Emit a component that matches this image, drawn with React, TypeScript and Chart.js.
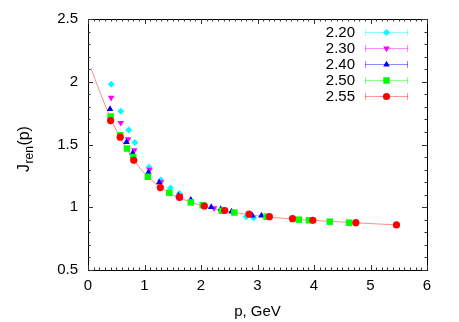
import React, { useEffect, useRef } from "react";
import { Chart, registerables } from "chart.js";

Chart.register(...registerables);

// beta = 2.20
const p220 = [0.41, 0.58, 0.72, 0.83, 1.08, 1.29, 1.46, 1.62, 2.8, 2.93];
const j220 = [1.98, 1.765, 1.616, 1.516, 1.318, 1.217, 1.153, 1.11, 0.925, 0.917];
// beta = 2.30
const p230 = [0.41, 0.58, 0.71, 0.82, 1.09, 1.29, 1.63, 2.23];
const j230 = [1.873, 1.673, 1.542, 1.455, 1.3, 1.2, 1.09, 0.992];
// beta = 2.40
const p240 = [0.39, 0.68, 0.79, 1.07, 1.26, 1.6, 1.82, 2.18, 2.35, 2.54, 2.91, 3.07];
const j240 = [1.783, 1.52, 1.432, 1.278, 1.199, 1.094, 1.06, 1.002, 0.986, 0.965, 0.934, 0.933];
// beta = 2.50
const p250 = [0.4, 0.57, 0.69, 0.8, 1.06, 1.44, 1.82, 2.03, 2.37, 2.59, 3.16, 3.73, 3.91, 4.28, 4.62];
const j250 = [1.723, 1.574, 1.468, 1.4, 1.243, 1.115, 1.039, 1.016, 0.972, 0.958, 0.925, 0.901, 0.896, 0.885, 0.877];
// beta = 2.55
const p255 = [0.4, 0.57, 0.81, 1.28, 1.62, 2.06, 2.42, 2.85, 3.21, 3.62, 3.98, 4.74, 5.46];
const j255 = [1.691, 1.558, 1.374, 1.157, 1.078, 1.01, 0.974, 0.945, 0.925, 0.909, 0.896, 0.877, 0.859];
// fit curve
const pFit = [0.05, 0.2, 0.4, 0.6, 0.8, 1.0, 1.25, 1.5, 2.0, 2.5, 3.0, 3.5, 4.0, 4.5, 5.0, 5.46];
const jFit = [2.11, 1.93, 1.71, 1.53, 1.385, 1.27, 1.17, 1.1, 1.015, 0.965, 0.932, 0.91, 0.895, 0.882, 0.87, 0.859];

const legendLabels = ["2.20", "2.30", "2.40", "2.50", "2.55"];
const colors = ["#00ffff", "#ff00ff", "#0000ff", "#00ff00", "#ff0000"];
const barColors = ["rgba(0,255,255,0.45)", "rgba(255,0,255,0.45)", "rgba(0,0,255,0.45)", "rgba(0,255,0,0.45)", "rgba(255,0,0,0.4)"];
const shapes = ["rectRot", "triangle", "triangle", "rect", "circle"];
const rotations = [0, 180, 0, 0, 0];
const radii = [3.5, 3.8, 3.8, 4.6, 3.6];

const xTicks = [0, 1, 2, 3, 4, 5, 6];
const yTicks = [0.5, 1, 1.5, 2, 2.5];

const FONT = "'Liberation Sans', Arial, sans-serif";

const toPts = (xs: number[], ys: number[]) => xs.map((x, i) => ({ x, y: ys[i] }));

function drawMarker(ctx: CanvasRenderingContext2D, shape: string, rot: number, r: number, x: number, y: number) {
  ctx.beginPath();
  if (shape === "circle") {
    ctx.arc(x, y, r, 0, Math.PI * 2);
  } else if (shape === "rect") {
    const s = r * Math.SQRT1_2;
    ctx.rect(x - s, y - s, 2 * s, 2 * s);
  } else if (shape === "rectRot") {
    ctx.moveTo(x, y - r);
    ctx.lineTo(x + r, y);
    ctx.lineTo(x, y + r);
    ctx.lineTo(x - r, y);
    ctx.closePath();
  } else {
    const d = rot === 180 ? -1 : 1;
    const h = (3 * r) / Math.sqrt(3);
    ctx.moveTo(x, y - d * r);
    ctx.lineTo(x + h / 2, y + d * r * 0.5);
    ctx.lineTo(x - h / 2, y + d * r * 0.5);
    ctx.closePath();
  }
  ctx.fill();
}

const decorPlugin = {
  id: "decor",
  afterDraw(chart: any) {
    const ctx: CanvasRenderingContext2D = chart.ctx;
    const { left, right, top, bottom } = chart.chartArea;
    const xs = chart.scales.x;
    const ys = chart.scales.y;
    ctx.save();
    // frame
    ctx.strokeStyle = "#000";
    ctx.lineWidth = 1;
    ctx.strokeRect(Math.round(left) + 0.5, Math.round(top) + 0.5, Math.round(right - left), Math.round(bottom - top));
    // ticks
    ctx.strokeStyle = "#333";
    ctx.beginPath();
    for (let i = 0; i <= 60; i++) {
      const v = i / 10;
      const px = Math.round(xs.getPixelForValue(v)) + 0.5;
      const len = i % 10 === 0 ? 5 : 2.5;
      ctx.moveTo(px, bottom);
      ctx.lineTo(px, bottom - len);
      ctx.moveTo(px, top);
      ctx.lineTo(px, top + len);
    }
    for (let i = 5; i <= 25; i++) {
      const v = i / 10;
      const py = Math.round(ys.getPixelForValue(v)) + 0.5;
      const len = i % 5 === 0 ? 5 : 2.5;
      ctx.moveTo(left, py);
      ctx.lineTo(left + len, py);
      ctx.moveTo(right, py);
      ctx.lineTo(right - len, py);
    }
    ctx.stroke();

    // legend
    const rowY0 = 32;
    const rowDy = 16;
    for (let i = 0; i < legendLabels.length; i++) {
      const y = rowY0 + i * rowDy;
      ctx.fillStyle = "#000";
      ctx.font = `15px ${FONT}`;
      ctx.textAlign = "right";
      ctx.textBaseline = "middle";
      ctx.fillText(legendLabels[i], 355, y + 1);
      ctx.strokeStyle = barColors[i];
      ctx.lineWidth = 1;
      ctx.beginPath();
      ctx.moveTo(365, y + 0.5);
      ctx.lineTo(408, y + 0.5);
      ctx.moveTo(365.5, y - 3);
      ctx.lineTo(365.5, y + 4);
      ctx.moveTo(407.5, y - 3);
      ctx.lineTo(407.5, y + 4);
      ctx.stroke();
      ctx.fillStyle = colors[i];
      drawMarker(ctx, shapes[i], rotations[i], radii[i], 386.5, y + 0.5);
    }

    // x title
    ctx.fillStyle = "#000";
    ctx.font = `15px ${FONT}`;
    ctx.textAlign = "center";
    ctx.textBaseline = "middle";
    ctx.fillText("p, GeV", (left + right) / 2, 312);

    // y title with subscript
    ctx.save();
    ctx.translate(29, 149);
    ctx.rotate(-Math.PI / 2);
    ctx.textAlign = "left";
    ctx.textBaseline = "alphabetic";
    ctx.font = `16px ${FONT}`;
    const wJ = ctx.measureText("J").width;
    ctx.font = `12px ${FONT}`;
    const wR = ctx.measureText("ren").width;
    ctx.font = `16px ${FONT}`;
    const wP = ctx.measureText("(p)").width;
    const total = wJ + wR + wP + 1;
    let cx = -total / 2;
    ctx.fillText("J", cx, 0);
    cx += wJ + 0.5;
    ctx.font = `12px ${FONT}`;
    ctx.fillText("ren", cx, 4);
    cx += wR + 0.5;
    ctx.font = `16px ${FONT}`;
    ctx.fillText("(p)", cx, 0);
    ctx.restore();

    ctx.restore();
  },
};

export default function App() {
  const ref = useRef<HTMLCanvasElement | null>(null);
  useEffect(() => {
    if (!ref.current) return;
    const seriesX = [p220, p230, p240, p250, p255];
    const seriesY = [j220, j230, j240, j250, j255];
    const datasets: any[] = seriesX.map((xs, i) => ({
      label: legendLabels[i],
      data: toPts(xs, seriesY[i]),
      showLine: false,
      pointStyle: shapes[i],
      rotation: rotations[i],
      pointRadius: radii[i],
      pointBackgroundColor: colors[i],
      pointBorderWidth: 0,
      pointBorderColor: colors[i],
      backgroundColor: colors[i],
      borderColor: colors[i],
      order: 4 - i,
    }));
    datasets.push({
      label: "fit",
      data: toPts(pFit, jFit),
      showLine: true,
      pointRadius: 0,
      borderColor: "rgba(255,0,0,0.45)",
      borderWidth: 1,
      cubicInterpolationMode: "monotone",
      order: 10,
    });
    const chart = new Chart(ref.current, {
      type: "scatter",
      data: { datasets },
      options: {
        animation: false,
        responsive: false,
        devicePixelRatio: 1,
        events: [],
        layout: { padding: { top: 19, right: 32, left: 0, bottom: 0 } },
        plugins: { legend: { display: false }, tooltip: { enabled: false } },
        scales: {
          x: {
            type: "linear",
            min: 0,
            max: 6,
            afterFit: (s: any) => { s.height = 52; },
            afterBuildTicks: (s: any) => { s.ticks = xTicks.map((v) => ({ value: v })); },
            grid: { display: false, drawTicks: false },
            border: { display: false },
            ticks: { padding: 7, color: "#000", font: { family: FONT, size: 15 }, callback: (v: any) => String(Number(v)) },
          },
          y: {
            type: "linear",
            min: 0.5,
            max: 2.5,
            afterFit: (s: any) => { s.width = 88; },
            afterBuildTicks: (s: any) => { s.ticks = yTicks.map((v) => ({ value: v })); },
            grid: { display: false, drawTicks: false },
            border: { display: false },
            ticks: { padding: 10, color: "#000", font: { family: FONT, size: 15 }, callback: (v: any) => String(Number(v)) },
          },
        },
      },
      plugins: [decorPlugin],
    } as any);
    return () => chart.destroy();
  }, []);
  return (
    <div style={{ position: "absolute", left: 0, top: 0, width: 459, height: 322, background: "#fff" }}>
      <canvas ref={ref} width={459} height={322} style={{ display: "block" }} />
    </div>
  );
}
